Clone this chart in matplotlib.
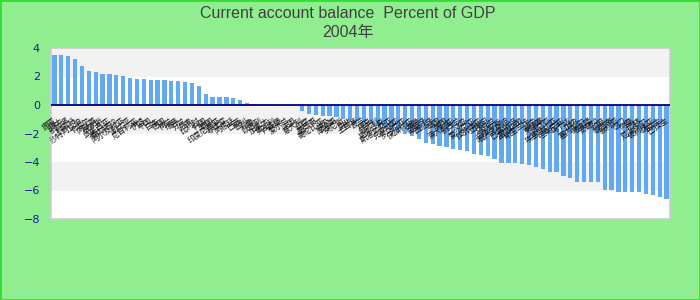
import matplotlib
matplotlib.use("Agg")
import matplotlib.pyplot as plt
from matplotlib.patches import Rectangle

# category names (shown as CJK labels under the zero line)
countries = [
    "挪威", "瑞士", "新加坡", "科威特", "沙特阿拉伯", "卡塔尔", "阿联酋", "俄罗斯", "马来西亚", "委内瑞拉",
    "阿尔及利亚", "利比亚", "尼日利亚", "伊朗", "中国", "日本", "德国", "荷兰", "瑞典", "芬兰",
    "丹麦", "比利时", "韩国", "泰国", "印度尼西亚", "菲律宾", "阿根廷", "巴西", "智利", "秘鲁",
    "以色列", "加拿大", "奥地利", "卢森堡", "爱尔兰", "法国", "意大利", "印度", "墨西哥", "哥伦比亚",
    "埃及", "摩洛哥", "突尼斯", "南非", "土耳其", "波兰", "捷克", "匈牙利", "斯洛伐克", "斯洛文尼亚",
    "克罗地亚", "罗马尼亚", "保加利亚", "希腊", "葡萄牙", "西班牙", "英国", "美国", "澳大利亚", "新西兰",
    "冰岛", "爱沙尼亚", "拉脱维亚", "立陶宛", "乌克兰", "白俄罗斯", "哈萨克斯坦", "巴基斯坦", "孟加拉国", "斯里兰卡",
    "越南", "柬埔寨", "肯尼亚", "埃塞俄比亚", "坦桑尼亚", "乌干达", "加纳", "塞内加尔", "喀麦隆", "安哥拉",
    "约旦", "黎巴嫩", "叙利亚", "也门", "阿曼", "巴林", "厄瓜多尔", "玻利维亚", "乌拉圭", "巴拉圭",
]

# current account balance, percent of GDP
balance = [
    3.53, 3.53, 3.46, 3.23, 2.74, 2.39, 2.32, 2.20, 2.20, 2.13,
    2.04, 1.89, 1.82, 1.82, 1.75, 1.75, 1.75, 1.68, 1.68, 1.61,
    1.54, 1.33, 0.77, 0.56, 0.56, 0.56, 0.49, 0.35, 0.14, 0.07,
    0.07, 0.07, 0.0, 0.0, 0.0, 0.0, -0.40, -0.63, -0.70, -0.77,
    -0.77, -0.84, -1.00, -1.05, -1.15, -1.25, -1.35, -1.45, -1.60, -1.75,
    -1.90, -2.05, -2.18, -2.39, -2.64, -2.74, -2.86, -2.92, -3.06, -3.13,
    -3.20, -3.42, -3.50, -3.57, -3.78, -4.06, -4.06, -4.06, -4.13, -4.20,
    -4.34, -4.48, -4.69, -4.69, -4.97, -5.11, -5.39, -5.39, -5.39, -5.39,
    -5.95, -5.95, -6.10, -6.10, -6.10, -6.10, -6.24, -6.31, -6.45, -6.59,
]

y_ticks = [-8, -6, -4, -2, 0, 2, 4]
title = "Current account balance  Percent of GDP\n2004年"

fig = plt.figure(figsize=(7, 3), dpi=100)
fig.patch.set_facecolor("#90ee90")
fig.patches.append(Rectangle((0, 0), 1, 1, transform=fig.transFigure,
                             fill=False, edgecolor="#33dd33", linewidth=2))

ax = fig.add_axes([51 / 700, 1 - 219 / 300, 619 / 700, 171 / 300])
ax.set_facecolor("white")

# alternating horizontal bands: 4..2, 0..-2, -4..-6 are grey
for lo, hi in zip(y_ticks[:-1], y_ticks[1:]):
    if (lo // 2) % 2 == 1:
        ax.axhspan(lo, hi, color="#f2f2f2", zorder=0, linewidth=0)

x = range(len(balance))
ax.bar(x, balance, width=0.62, color="#63a9f2", zorder=2)
ax.axhline(0, color="#000080", linewidth=1.3, zorder=3)

for i, name in enumerate(countries):
    ax.annotate(name, (i, 0), xytext=(0.5, -10.5), textcoords="offset points",
                rotation=35, rotation_mode="anchor", ha="right", va="center",
                fontsize=5.5, color="#111111", family=["Noto Sans CJK SC", "DejaVu Sans"],
                zorder=4, annotation_clip=False)

ax.set_xlim(-0.5, len(balance) - 0.5)
ax.set_ylim(-8, 4)
ax.set_xticks([])
ax.set_yticks(y_ticks)
ax.tick_params(axis="y", length=0, pad=8, labelsize=8, labelcolor="#1a1a9a")
for s in ax.spines.values():
    s.set_color("#cccccc")
    s.set_linewidth(1.2)

fig.text(348 / 700, 1 - 23 / 300, title, ha="center", va="center", linespacing=1.35,
         fontsize=11.5, color="#404040", family=["Liberation Sans", "Noto Sans CJK SC"])

fig.savefig("out.png", dpi=100, facecolor=fig.get_facecolor())
